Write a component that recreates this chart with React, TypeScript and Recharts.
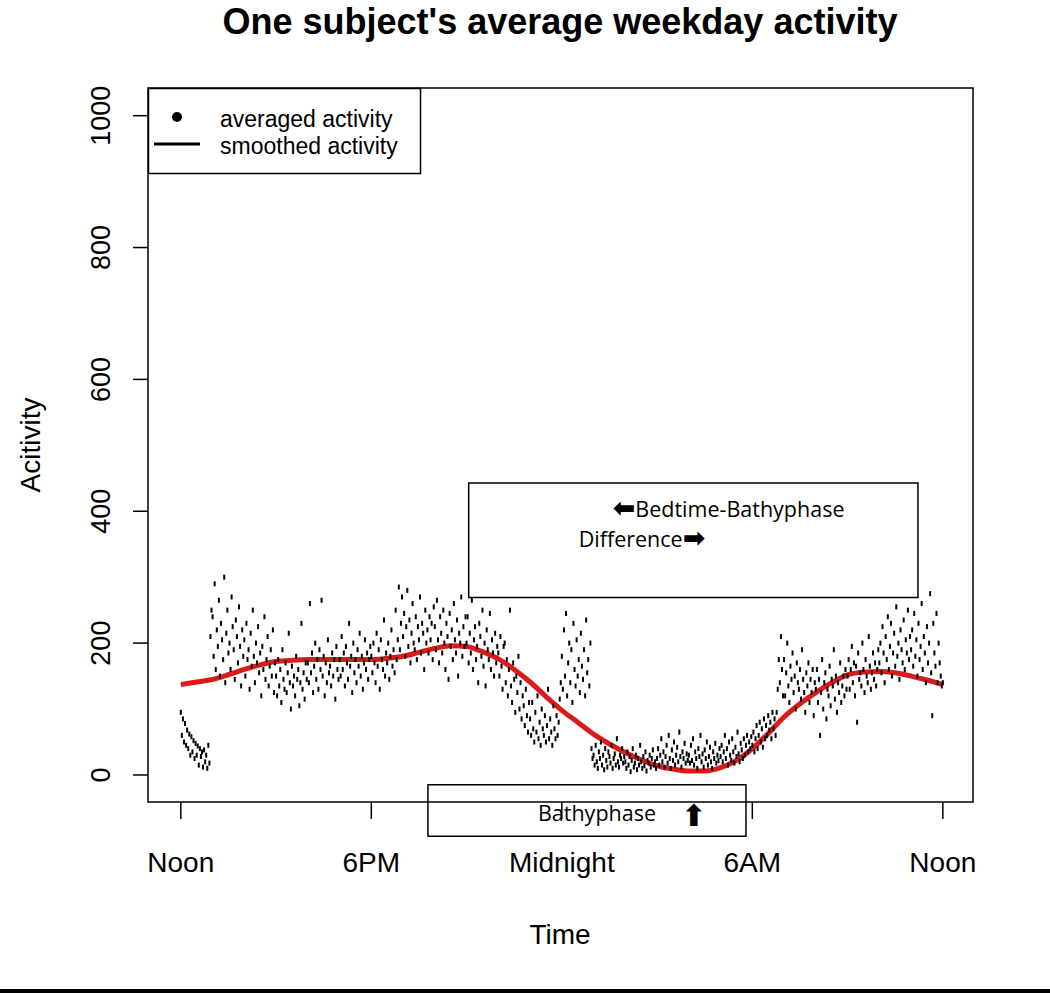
import React from 'react';
import { ComposedChart, Scatter, Line, XAxis, YAxis, ReferenceArea } from 'recharts';

const timeTicks = [0, 360, 720, 1080, 1440];
const timeLabels = ['Noon', '6PM', 'Midnight', '6AM', 'Noon'];
const activityTicks = [0, 200, 400, 600, 800, 1000];

// averaged activity, one value every 2 minutes, one row per hour starting at noon
const averagedRows = [
  [95, 60, 85, 50, 78, 45, 68, 40, 62, 30, 58, 35, 52, 25, 48, 30, 44, 15, 40, 28, 35, 12, 38, 20, 30, 10, 45, 18, 210, 250],
  [240, 180, 290, 160, 220, 195, 265, 150, 230, 205, 175, 300, 140, 215, 250, 185, 200, 160, 270, 225, 190, 145, 235, 210, 170, 255, 195, 135, 220, 180],
  [205, 150, 230, 175, 190, 130, 215, 165, 250, 180, 140, 200, 170, 225, 155, 185, 120, 195, 160, 240, 145, 175, 210, 135, 165, 190, 150, 220, 125, 170],
  [150, 120, 175, 135, 160, 110, 190, 145, 130, 170, 125, 155, 215, 140, 100, 165, 135, 150, 120, 180, 145, 160, 105, 140, 230, 130, 155, 115, 170, 145],
  [170, 140, 260, 155, 185, 125, 165, 200, 145, 175, 130, 190, 160, 265, 150, 180, 120, 170, 140, 205, 155, 165, 135, 185, 150, 175, 115, 195, 160, 145],
  [175, 150, 210, 160, 185, 135, 195, 170, 145, 230, 165, 180, 125, 200, 155, 175, 140, 190, 165, 215, 150, 180, 130, 170, 205, 160, 185, 145, 175, 195],
  [180, 155, 200, 170, 140, 215, 165, 190, 130, 205, 175, 160, 235, 150, 185, 170, 200, 145, 180, 220, 165, 190, 155, 250, 175, 205, 285, 190, 230, 270],
  [210, 245, 180, 225, 280, 195, 235, 170, 215, 260, 200, 190, 240, 175, 225, 205, 270, 185, 230, 215, 160, 250, 200, 220, 185, 240, 205, 230, 175, 255],
  [225, 190, 265, 205, 170, 240, 215, 185, 250, 200, 160, 230, 210, 145, 245, 195, 220, 175, 260, 205, 185, 235, 150, 215, 200, 270, 180, 225, 195, 240],
  [200, 240, 170, 215, 185, 265, 160, 205, 225, 175, 195, 140, 230, 210, 180, 250, 165, 200, 135, 220, 190, 175, 245, 160, 205, 185, 150, 215, 170, 195],
  [185, 150, 210, 165, 130, 195, 200, 140, 175, 120, 160, 250, 135, 110, 170, 145, 95, 150, 125, 180, 100, 140, 85, 120, 105, 75, 130, 90, 65, 110],
  [85, 60, 110, 70, 50, 95, 65, 120, 55, 80, 45, 100, 70, 60, 90, 50, 75, 130, 55, 85, 65, 45, 105, 70, 55, 90, 60, 80, 115, 140],
  [180, 130, 220, 150, 245, 120, 170, 200, 140, 190, 110, 230, 160, 135, 205, 150, 175, 125, 215, 165, 145, 190, 120, 235, 155, 175, 135, 200, 40, 25],
  [30, 15, 45, 20, 10, 35, 25, 50, 15, 30, 8, 40, 22, 12, 35, 28, 18, 45, 10, 25, 32, 15, 55, 20, 12, 30, 25, 40, 18, 28],
  [20, 10, 35, 15, 28, 5, 22, 40, 12, 18, 30, 8, 25, 15, 45, 20, 10, 28, 14, 35, 6, 22, 18, 30, 12, 25, 38, 15, 20, 10],
  [25, 40, 15, 30, 55, 20, 35, 12, 28, 45, 18, 60, 25, 10, 38, 22, 50, 15, 30, 42, 20, 65, 28, 12, 35, 25, 48, 18, 32, 22],
  [30, 18, 45, 22, 55, 15, 35, 25, 10, 40, 28, 60, 20, 32, 12, 38, 25, 50, 15, 28, 42, 20, 10, 35, 25, 48, 18, 30, 22, 40],
  [28, 45, 20, 35, 60, 25, 40, 15, 50, 30, 22, 55, 35, 18, 42, 28, 65, 32, 20, 48, 38, 25, 55, 30, 45, 60, 35, 50, 40, 58],
  [45, 65, 35, 55, 75, 40, 60, 80, 50, 70, 42, 85, 55, 75, 60, 90, 68, 80, 55, 95, 70, 85, 60, 95, 130, 175, 140, 210, 160, 120],
  [175, 120, 155, 200, 135, 110, 165, 145, 185, 125, 150, 100, 170, 140, 130, 160, 115, 190, 145, 125, 95, 155, 135, 170, 110, 145, 125, 160, 90, 140],
  [130, 160, 110, 145, 60, 125, 175, 100, 140, 155, 85, 130, 120, 165, 105, 145, 135, 190, 115, 150, 95, 140, 125, 170, 110, 135, 150, 120, 160, 130],
  [150, 175, 130, 160, 195, 140, 170, 120, 165, 80, 185, 145, 155, 135, 200, 160, 125, 175, 150, 140, 210, 165, 130, 155, 185, 145, 170, 135, 160, 190],
  [170, 200, 155, 225, 185, 140, 210, 175, 240, 160, 195, 230, 150, 185, 215, 165, 255, 180, 200, 145, 220, 190, 170, 235, 160, 205, 185, 250, 175, 210],
  [190, 220, 165, 245, 180, 205, 150, 230, 175, 195, 260, 160, 210, 185, 140, 225, 170, 200, 275, 155, 90, 230, 185, 165, 245, 140, 200, 170, 150, 135],
];
const averagedEnd = 140;

// smoothed activity, every 30 minutes from noon to noon
const smoothed = [
  137, 141, 145, 152, 160, 167, 172, 174, 175, 175, 175, 175, 175, 177, 180, 186, 192, 196,
  195, 187, 176, 160, 141, 119, 98, 80, 62, 47, 34, 23, 14, 9, 6, 6, 11, 22,
  40, 63, 88, 108, 125, 140, 152, 156, 157, 155, 150, 144, 137,
];

const points = averagedRows.flat().map((v, i) => ({ t: i * 2, v }));
points.push({ t: 1440, v: averagedEnd });
const curve = smoothed.map((v, i) => ({ t: i * 30, v }));

const FONT = '"Liberation Sans", Arial, sans-serif';
const NOTE_FONT = '"Open Sans", "Noto Sans", sans-serif';
const ARROW_FONT = '"DejaVu Sans", sans-serif';

const Dash = (props: any) => {
  const { cx, cy } = props;
  if (cx == null || cy == null) return null;
  return <rect x={cx - 1} y={cy - 2.5} width={2} height={5} fill="#000" />;
};

const TimeTick = (props: any) => {
  const { x, y, payload } = props;
  const label = timeLabels[timeTicks.indexOf(payload.value)];
  return (
    <text x={x} y={y + 53} textAnchor="middle" fontSize={28} fontFamily={FONT} fill="#000">
      {label}
    </text>
  );
};

const ActivityTick = (props: any) => {
  const { x, y, payload } = props;
  const bx = x - 21;
  return (
    <text x={bx} y={y} transform={`rotate(-90 ${bx} ${y})`} textAnchor="middle" fontSize={27} fontFamily={FONT} fill="#000">
      {payload.value}
    </text>
  );
};

const DifferenceNote = (props: any) => {
  const vb = props.viewBox;
  if (!vb) return null;
  return (
    <g fontFamily={NOTE_FONT} fontSize={21.5} fill="#000">
      <text x={vb.x + 144} y={vb.y + 34}>
        <tspan fontFamily={ARROW_FONT} fontWeight="bold" fontSize={27}>⬅</tspan>Bedtime-Bathyphase
      </text>
      <text x={vb.x + 110} y={vb.y + 64}>
        Difference<tspan fontFamily={ARROW_FONT} fontWeight="bold" fontSize={27}>➡</tspan>
      </text>
    </g>
  );
};

const BathyNote = (props: any) => {
  const vb = props.viewBox;
  if (!vb) return null;
  return (
    <g fontFamily={NOTE_FONT} fontSize={21.5} fill="#000">
      <text x={vb.x + 110} y={vb.y + 36}>Bathyphase</text>
      <text x={vb.x + 266} y={vb.y + 41} textAnchor="middle" fontWeight="bold" fontFamily={ARROW_FONT} fontSize={30}>⬆</text>
    </g>
  );
};

export default function App() {
  return (
    <div style={{ position: 'absolute', left: 0, top: 0, width: 1050, height: 994, background: '#fff' }}>
      <ComposedChart width={1050} height={994} margin={{ top: 88, right: 77, bottom: 132, left: 88 }}>
        <XAxis
          type="number"
          dataKey="t"
          domain={[-62, 1497]}
          allowDataOverflow
          ticks={timeTicks}
          interval={0}
          height={60}
          tickSize={17}
          tickMargin={0}
          axisLine={false}
          tickLine={{ stroke: '#000', strokeWidth: 1.5 }}
          tick={<TimeTick />}
        />
        <YAxis
          type="number"
          dataKey="v"
          domain={[-41, 1042]}
          allowDataOverflow
          ticks={activityTicks}
          interval={0}
          width={60}
          tickSize={15}
          axisLine={false}
          tickLine={{ stroke: '#000', strokeWidth: 1.5 }}
          tick={<ActivityTick />}
        />
        <Scatter data={points} dataKey="v" shape={Dash} isAnimationActive={false} />
        <Line data={curve} dataKey="v" type="monotone" stroke="#dc1a1a" strokeWidth={5} dot={false} activeDot={false} isAnimationActive={false} />
        <ReferenceArea x1={544} x2={1393} y1={269} y2={443} fill="none" fillOpacity={0} stroke="#000" strokeWidth={1.5} ifOverflow="visible" label={<DifferenceNote />} />
        <ReferenceArea x1={467} x2={1068} y1={-93} y2={-15} fill="none" fillOpacity={0} stroke="#000" strokeWidth={1.5} ifOverflow="visible" label={<BathyNote />} />
        <ReferenceArea x1={-62} x2={1497} y1={-41} y2={1042} fill="none" fillOpacity={0} stroke="#000" strokeWidth={1.5} ifOverflow="visible" />
      </ComposedChart>
      <svg width={1050} height={994} style={{ position: 'absolute', left: 0, top: 0, pointerEvents: 'none' }}>
        <text x={560} y={34} textAnchor="middle" fontFamily={FONT} fontWeight="bold" fontSize={36} fill="#000">
          One subject's average weekday activity
        </text>
        <text x={40} y={445} transform="rotate(-90 40 445)" textAnchor="middle" fontFamily={FONT} fontSize={28} fill="#000">
          Acitivity
        </text>
        <text x={560} y={944} textAnchor="middle" fontFamily={FONT} fontSize={28} fill="#000">
          Time
        </text>
        <rect x={148.5} y={88.5} width={272} height={85} fill="#fff" stroke="#000" strokeWidth={1.5} />
        <circle cx={177} cy={117} r={5} fill="#000" />
        <line x1={154} x2={200} y1={144} y2={144} stroke="#000" strokeWidth={3} />
        <text x={220} y={127} fontFamily={FONT} fontSize={23} fill="#000">averaged activity</text>
        <text x={220} y={154} fontFamily={FONT} fontSize={23} fill="#000">smoothed activity</text>
        <rect x={0} y={989} width={1050} height={4} fill="#000" />
      </svg>
    </div>
  );
}
